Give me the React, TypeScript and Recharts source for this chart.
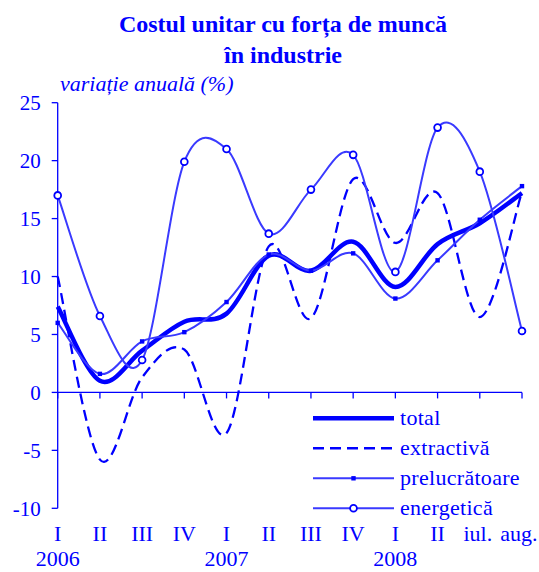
import React from 'react'
import { LineChart, Line, XAxis, YAxis, ReferenceLine } from 'recharts'

// --- Data (annual change, %) ---
const periods = ['I', 'II', 'III', 'IV', 'I', 'II', 'III', 'IV', 'I', 'II', 'iul.', 'aug.']
const years = ['2006', '', '', '', '2007', '', '', '', '2008', '', '', '']
const total = [7.4, 1.0, 3.6, 6.1, 6.8, 11.8, 10.5, 13.0, 9.1, 12.8, 14.6, 17.2]
const extractiva = [10.0, -5.8, 1.3, 3.7, -3.5, 12.6, 6.4, 18.4, 12.9, 17.2, 6.5, 17.3]
const prelucratoare = [6.0, 1.6, 4.4, 5.2, 7.8, 11.9, 10.5, 12.0, 8.1, 11.4, 14.9, 17.8]
const energetica = [17.0, 6.6, 2.8, 19.9, 21.0, 13.7, 17.5, 20.5, 10.4, 22.85, 19.05, 5.3]
const yTicks = [-10, -5, 0, 5, 10, 15, 20, 25]

const data = periods.map((p, i) => ({
  period: p,
  year: years[i],
  total: total[i],
  extractiva: extractiva[i],
  prelucratoare: prelucratoare[i],
  energetica: energetica[i],
}))

// --- Layout / style ---
const W = 539
const H = 572
const PLOT_TOP = 102.7
const X_AXIS_H = 63.7
const PLOT_H = H - PLOT_TOP - X_AXIS_H
const Y_MIN = -10
const Y_MAX = 25
const BLUE = '#0000ff'
const THIN = '#3a3aff'
const FONT = '"Liberation Serif", "Times New Roman", serif'

// Excel-like smoothed line (Catmull-Rom through the points)
const smooth = (context: any) => {
  let pts: number[][] = []
  return {
    areaStart() {},
    areaEnd() {},
    lineStart() { pts = [] },
    point(x: number, y: number) { pts.push([+x, +y]) },
    lineEnd() {
      if (!pts.length) return
      context.moveTo(pts[0][0], pts[0][1])
      for (let i = 0; i < pts.length - 1; i++) {
        const p0 = pts[i - 1] || pts[i]
        const p1 = pts[i]
        const p2 = pts[i + 1]
        const p3 = pts[i + 2] || p2
        context.bezierCurveTo(
          p1[0] + (p2[0] - p0[0]) / 6, p1[1] + (p2[1] - p0[1]) / 6,
          p2[0] - (p3[0] - p1[0]) / 6, p2[1] - (p3[1] - p1[1]) / 6,
          p2[0], p2[1],
        )
      }
    },
  }
}

// last label sits a bit left so it stays inside the frame
const labelShift: Record<number, number> = { 10: -2, 11: -3 }

function PeriodTick({ x, y, payload }: any) {
  const i = payload.index
  const zeroY = y - (PLOT_H * (0 - Y_MIN)) / (Y_MAX - Y_MIN)
  return (
    <g>
      <line x1={x} x2={x} y1={zeroY} y2={zeroY + 6} stroke={BLUE} strokeWidth={1.3} />
      <text x={x + (labelShift[i] ?? 0)} y={y + 32.7} textAnchor="middle" fill={BLUE} fontSize={22} fontFamily={FONT}>
        {payload.value}
      </text>
      {years[i] && (
        <text x={x} y={y + 57.5} textAnchor="middle" fill={BLUE} fontSize={22} fontFamily={FONT}>
          {years[i]}
        </text>
      )}
    </g>
  )
}

const SquareDot = ({ cx, cy }: any) => (
  <rect x={cx - 2.2} y={cy - 2.2} width={4.4} height={4.4} fill={BLUE} />
)

const CircleDot = ({ cx, cy }: any) => (
  <circle cx={cx} cy={cy} r={3.4} fill="#ffffff" stroke={BLUE} strokeWidth={1.8} />
)

const legendItems = [
  { name: 'total', width: 4.5, dash: undefined, color: BLUE, marker: null },
  { name: 'extractivă', width: 2.5, dash: '11 6', color: BLUE, marker: null },
  { name: 'prelucrătoare', width: 2, dash: undefined, color: THIN, marker: 'square' },
  { name: 'energetică', width: 2, dash: undefined, color: THIN, marker: 'circle' },
]

function ChartLegend() {
  return (
    <svg width={W} height={H} style={{ position: 'absolute', left: 0, top: 0, pointerEvents: 'none' }}>
      {legendItems.map((item, i) => {
        const cy = 418.3 + i * 30
        return (
          <g key={item.name}>
            <line x1={313} x2={394} y1={cy} y2={cy} stroke={item.color} strokeWidth={item.width} strokeDasharray={item.dash} />
            {item.marker === 'square' && <SquareDot cx={353.5} cy={cy} />}
            {item.marker === 'circle' && <CircleDot cx={353.5} cy={cy} />}
            <text x={400} y={cy + 6.5} fill={BLUE} fontSize={22} fontFamily={FONT} letterSpacing={0.3}>{item.name}</text>
          </g>
        )
      })}
    </svg>
  )
}

export default function App() {
  return (
    <div style={{ position: 'absolute', left: 0, top: 0, width: W, height: H, fontFamily: FONT, color: BLUE }}>
      <div style={{ position: 'absolute', left: 0, width: 566, top: 9, textAlign: 'center', fontSize: 24, fontWeight: 'bold', lineHeight: '31px' }}>
        Costul unitar cu forța de muncă
        <br />
        în industrie
      </div>
      <div style={{ position: 'absolute', left: 60, top: 71, fontSize: 22, fontStyle: 'italic', lineHeight: '26px' }}>
        variație anuală (%)
      </div>
      <div style={{ position: 'absolute', left: 0, top: 0 }}>
        <LineChart width={W} height={H} data={data} margin={{ top: PLOT_TOP, right: 17, bottom: 0, left: 0 }}>
          <XAxis
            dataKey="period"
            height={X_AXIS_H}
            axisLine={false}
            tickLine={false}
            tickSize={0}
            tickMargin={0}
            interval={0}
            tick={<PeriodTick />}
          />
          <YAxis
            width={57.7}
            domain={[Y_MIN, Y_MAX]}
            ticks={yTicks}
            allowDataOverflow
            axisLine={{ stroke: BLUE, strokeWidth: 1.3 }}
            tickLine={{ stroke: BLUE, strokeWidth: 1.3 }}
            tickSize={6}
            tickMargin={11}
            tick={{ fill: BLUE, fontSize: 21, fontFamily: FONT }}
          />
          <ReferenceLine y={0} stroke={BLUE} strokeWidth={1.3} />
          <Line dataKey="total" type={smooth as any} stroke={BLUE} strokeWidth={4.5} dot={false} isAnimationActive={false} />
          <Line dataKey="extractiva" type={smooth as any} stroke={BLUE} strokeWidth={2.3} strokeDasharray="11 6" dot={false} isAnimationActive={false} />
          <Line dataKey="prelucratoare" type={smooth as any} stroke={THIN} strokeWidth={2} dot={<SquareDot />} isAnimationActive={false} />
          <Line dataKey="energetica" type={smooth as any} stroke={THIN} strokeWidth={2} dot={<CircleDot />} isAnimationActive={false} />
        </LineChart>
      </div>
      <ChartLegend />
    </div>
  )
}
